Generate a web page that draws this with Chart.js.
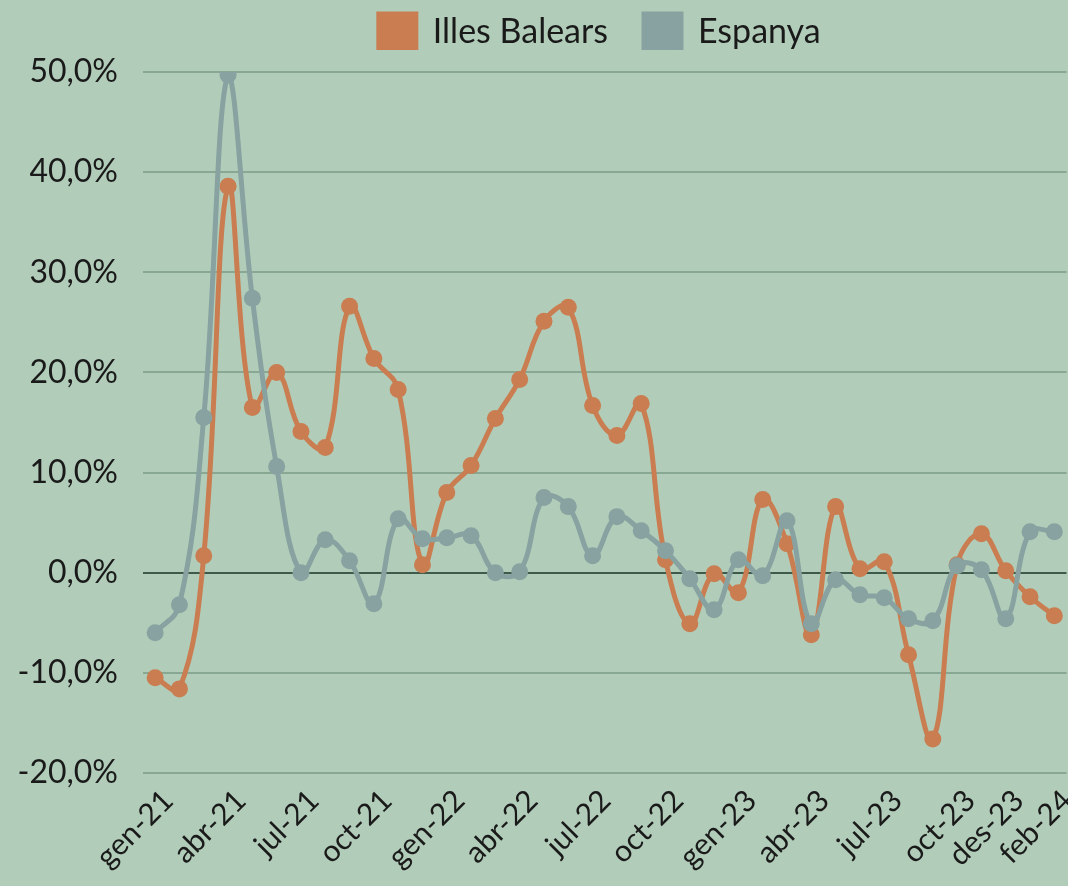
<!DOCTYPE html>
<html>
<head>
<meta charset="utf-8">
<script src="https://cdn.jsdelivr.net/npm/chart.js@4/dist/chart.umd.min.js"></script>
<style>
    html, body { margin: 0; padding: 0; background: #b1cdb9; overflow: hidden; }
    #wrap { width: 1075px; height: 886px; position: relative; }
</style>
</head>
<body>
<div id="wrap"><canvas id="TaxaChart"></canvas></div>
<script>
(function() {
    "use strict";

    var labels = [
        "gen-21", "feb-21", "mar-21", "abr-21", "mai-21", "jun-21", "jul-21", "ago-21", "set-21", "oct-21", "nov-21", "des-21",
        "gen-22", "feb-22", "mar-22", "abr-22", "mai-22", "jun-22", "jul-22", "ago-22", "set-22", "oct-22", "nov-22", "des-22",
        "gen-23", "feb-23", "mar-23", "abr-23", "mai-23", "jun-23", "jul-23", "ago-23", "set-23", "oct-23", "nov-23", "des-23",
        "gen-24", "feb-24"
    ];
    var illesBalears = [
        -10.5, -11.6, 1.7, 38.6, 16.5, 20.0, 14.1, 12.5, 26.6, 21.4, 18.3, 0.8,
        8.0, 10.7, 15.4, 19.3, 25.1, 26.5, 16.7, 13.7, 16.9, 1.3, -5.1, -0.1,
        -2.0, 7.3, 2.9, -6.2, 6.6, 0.4, 1.1, -8.2, -16.6, 0.8, 3.9, 0.2,
        -2.4, -4.3
    ];
    var espanya = [
        -6.0, -3.2, 15.5, 49.7, 27.4, 10.6, 0.0, 3.3, 1.2, -3.1, 5.4, 3.4,
        3.5, 3.7, 0.0, 0.1, 7.5, 6.6, 1.7, 5.6, 4.2, 2.2, -0.6, -3.7,
        1.3, -0.3, 5.2, -5.1, -0.7, -2.2, -2.5, -4.6, -4.8, 0.7, 0.3, -4.6,
        4.1, 4.1
    ];
    var shownTicks = [0, 3, 6, 9, 12, 15, 18, 21, 24, 27, 30, 33, 35, 37];

    var orange = "#c97d50",
        grey = "#87a2a0";

    // legend: fixed height, centred over the plot area
    var legendPlacement = {
        id: "legendPlacement",
        beforeUpdate: function(chart) {
            var legend = chart.legend;
            if (legend && !legend._fixedFit) {
                var fit = legend.fit;
                legend.fit = function() {
                    fit.call(this);
                    this.height = 72;
                };
                legend._fixedFit = true;
            }
        },
        afterLayout: function(chart) {
            var legend = chart.legend;
            legend.left = chart.chartArea.left - 10;
            legend.right = chart.chartArea.right;
            legend.top = -22;
            legend.bottom = 50;
        }
    };

    var container = document.getElementById("TaxaChart");

    new Chart(container, {
        type: "line",
        data: {
            labels: labels,
            datasets: [{
                label: "Illes Balears",
                data: illesBalears,
                borderColor: orange,
                backgroundColor: orange,
                pointBackgroundColor: orange,
                borderWidth: 5,
                pointRadius: 8.5,
                pointBorderWidth: 0,
                tension: 0.4,
                order: 1
            }, {
                label: "Espanya",
                data: espanya,
                borderColor: grey,
                backgroundColor: grey,
                pointBackgroundColor: grey,
                borderWidth: 5,
                pointRadius: 8.5,
                pointBorderWidth: 0,
                tension: 0.4,
                order: 0
            }]
        },
        options: {
            responsive: true,
            maintainAspectRatio: false,
            animation: false,
            layout: {
                padding: { top: 0, right: 0, bottom: 0, left: 0 }
            },
            plugins: {
                tooltip: { enabled: false },
                legend: {
                    position: "top",
                    labels: {
                        boxWidth: 37,
                        boxHeight: 37,
                        padding: 36,
                        color: "#1a1a1a",
                        font: { family: "Lato", size: 34 },
                        sort: function(a, b) { return a.datasetIndex - b.datasetIndex; }
                    }
                }
            },
            scales: {
                x: {
                    offset: true,
                    grid: { display: false },
                    border: { display: false },
                    afterFit: function(scale) {
                        scale.height = 113;
                        scale.paddingLeft = 0;
                        scale.paddingRight = 0;
                    },
                    ticks: {
                        autoSkip: false,
                        minRotation: 45,
                        maxRotation: 45,
                        padding: 2,
                        labelOffset: 13,
                        color: "#1a1a1a",
                        font: { family: "Lato", size: 30 },
                        callback: function(value, index) {
                            return shownTicks.indexOf(index) !== -1 ? labels[index] : "";
                        }
                    }
                },
                y: {
                    min: -20,
                    max: 50,
                    border: { display: false },
                    afterFit: function(scale) { scale.width = 143; },
                    grid: {
                        drawTicks: false,
                        lineWidth: 2,
                        color: function(ctx) {
                            return ctx.tick && ctx.tick.value === 0 ? "#3e5a4a" : "#88a893";
                        }
                    },
                    ticks: {
                        stepSize: 10,
                        padding: 25,
                        color: "#1a1a1a",
                        font: { family: "Lato", size: 32 },
                        callback: function(value) {
                            return value.toFixed(1).replace(".", ",") + "%";
                        }
                    }
                }
            }
        },
        plugins: [legendPlacement]
    });
})();
</script>
</body>
</html>
